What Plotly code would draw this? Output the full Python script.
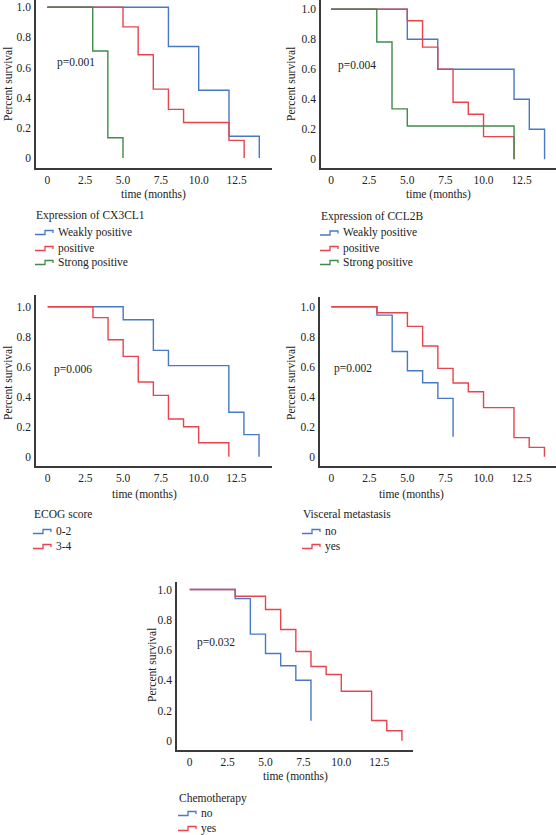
import plotly.graph_objects as go

# ---------------- data ----------------
x_ticks = [0, 2.5, 5, 7.5, 10, 12.5]
x_tick_labels = ["0", "2.5", "5.0", "7.5", "10.0", "12.5"]
y_ticks = [0, 0.2, 0.4, 0.6, 0.8, 1.0]
y_tick_labels = ["0", "0.2", "0.4", "0.6", "0.8", "1.0"]

# Panel 1: Expression of CX3CL1
cx3_weak_t = [0, 8, 10, 12, 14]
cx3_weak_s = [1.0, 0.74, 0.45, 0.145, 0]
cx3_pos_t = [0, 5, 6, 7, 8, 9, 12, 13]
cx3_pos_s = [1.0, 0.87, 0.685, 0.457, 0.323, 0.236, 0.117, 0]
cx3_strong_t = [0, 3, 4, 5]
cx3_strong_s = [1.0, 0.71, 0.135, 0]

# Panel 2: Expression of CCL2B
ccl_weak_t = [0, 5, 7, 12, 13, 14]
ccl_weak_s = [1.0, 0.8, 0.6, 0.4, 0.2, 0]
ccl_pos_t = [0, 5, 6, 7, 8, 9, 10, 12]
ccl_pos_s = [1.0, 0.924, 0.748, 0.6, 0.38, 0.3, 0.151, 0]
ccl_strong_t = [0, 3, 4, 5, 12]
ccl_strong_s = [1.0, 0.782, 0.336, 0.222, 0]

# Panel 3: ECOG score
ecog_02_t = [0, 5, 7, 8, 12, 13, 14]
ecog_02_s = [1.0, 0.913, 0.709, 0.607, 0.296, 0.147, 0]
ecog_34_t = [0, 3, 4, 5, 6, 7, 8, 9, 10, 12]
ecog_34_s = [1.0, 0.927, 0.78, 0.669, 0.498, 0.409, 0.251, 0.2, 0.093, 0]

# Panel 4: Visceral metastasis
visc_no_t = [0, 3, 4, 5, 6, 7, 8]
visc_no_s = [1.0, 0.944, 0.702, 0.573, 0.493, 0.389, 0.133]
visc_yes_t = [0, 3, 5, 6, 7, 8, 9, 10, 12, 13, 14]
visc_yes_s = [1.0, 0.96, 0.869, 0.738, 0.589, 0.491, 0.433, 0.327, 0.127, 0.062, 0]

# Panel 5: Chemotherapy
chemo_no_t = [0, 3, 4, 5, 6, 7, 8]
chemo_no_s = [1.0, 0.94, 0.705, 0.577, 0.496, 0.4, 0.132]
chemo_yes_t = [0, 3, 5, 6, 7, 8, 9, 10, 12, 13, 14]
chemo_yes_s = [1.0, 0.956, 0.868, 0.736, 0.59, 0.491, 0.438, 0.328, 0.134, 0.066, 0]

BLUE = "#4878c8"
RED = "#e8444d"
GREEN = "#3f8c4b"

panels = [
    dict(title="Expression of CX3CL1", p="p=0.001",
         series=[("Weakly positive", cx3_weak_t, cx3_weak_s, BLUE),
                 ("positive", cx3_pos_t, cx3_pos_s, RED),
                 ("Strong positive", cx3_strong_t, cx3_strong_s, GREEN)]),
    dict(title="Expression of CCL2B", p="p=0.004",
         series=[("Weakly positive", ccl_weak_t, ccl_weak_s, BLUE),
                 ("positive", ccl_pos_t, ccl_pos_s, RED),
                 ("Strong positive", ccl_strong_t, ccl_strong_s, GREEN)]),
    dict(title="ECOG score", p="p=0.006",
         series=[("0-2", ecog_02_t, ecog_02_s, BLUE),
                 ("3-4", ecog_34_t, ecog_34_s, RED)]),
    dict(title="Visceral metastasis", p="p=0.002",
         series=[("no", visc_no_t, visc_no_s, BLUE),
                 ("yes", visc_yes_t, visc_yes_s, RED)]),
    dict(title="Chemotherapy", p="p=0.032",
         series=[("no", chemo_no_t, chemo_no_s, BLUE),
                 ("yes", chemo_yes_t, chemo_yes_s, RED)]),
]

# ---------------- layout geometry (pixels) ----------------
W, H = 556, 835
geo = [
    dict(l=36, r=272, t=0, b=168, xr=[-0.746, 14.84], yr=[-0.066, 1.048],
         p=(55, 63), ylab=(8, 84), xlab=(153, 195),
         leg=(35, 216, [232, 248, 262])),
    dict(l=321, r=556, t=0, b=168, xr=[-0.656, 14.75], yr=[-0.058, 1.062],
         p=(336, 65), ylab=(291, 84), xlab=(438, 195),
         leg=(320, 216.5, [232.5, 248, 262])),
    dict(l=36, r=272, t=295, b=466, xr=[-0.775, 14.86], yr=[-0.062, 1.078],
         p=(52, 370), ylab=(8, 383), xlab=(144, 494),
         leg=(33, 514, [531, 546])),
    dict(l=320, r=556, t=297, b=466, xr=[-0.741, 14.76], yr=[-0.062, 1.065],
         p=(332, 368), ylab=(291, 383), xlab=(412, 494),
         leg=(302, 514, [531, 546])),
    dict(l=177, r=413, t=582, b=750, xr=[-0.839, 14.73], yr=[-0.061, 1.05],
         p=(195, 642), ylab=(152, 665), xlab=(295, 776),
         leg=(178, 798, [813, 828])),
]

FONT = "Liberation Serif"
AXC = "#3a3a3a"
TXT = "#222"


def fx(px):
    return px / W


def fy(py):
    return 1 - py / H


fig = go.Figure()
layout = dict(width=W, height=H, margin=dict(l=0, r=0, t=0, b=0),
              paper_bgcolor="white", plot_bgcolor="white", showlegend=False,
              font=dict(family=FONT, size=11, color=TXT))
annotations = []
shapes = []

for i, (pan, g) in enumerate(zip(panels, geo)):
    n = i + 1
    xa = "x" if n == 1 else f"x{n}"
    ya = "y" if n == 1 else f"y{n}"
    for name, t, s, col in pan["series"]:
        fig.add_trace(go.Scatter(x=t, y=s, mode="lines", name=name,
                                 line=dict(color=col, width=1.4, shape="hv"),
                                 xaxis=xa, yaxis=ya, hoverinfo="skip"))
    xkey = "xaxis" if n == 1 else f"xaxis{n}"
    ykey = "yaxis" if n == 1 else f"yaxis{n}"
    layout[xkey] = dict(domain=[fx(g["l"]), fx(g["r"])], range=g["xr"],
                        anchor=ya, showgrid=False, zeroline=False,
                        showline=True, linecolor=AXC, linewidth=1.5,
                        tickvals=x_ticks, ticktext=x_tick_labels, ticks="",
                        ticklabelstandoff=0,
                        tickfont=dict(family=FONT, size=11.5, color=TXT))
    layout[ykey] = dict(domain=[fy(g["b"]), fy(g["t"])], range=g["yr"],
                        anchor=xa, showgrid=False, zeroline=False,
                        showline=True, linecolor=AXC, linewidth=1.5,
                        tickvals=y_ticks, ticktext=y_tick_labels, ticks="",
                        ticklabelstandoff=1,
                        tickfont=dict(family=FONT, size=11.5, color=TXT))
    # p value
    annotations.append(dict(x=fx(g["p"][0]), y=fy(g["p"][1]), xref="paper",
                            yref="paper", text=pan["p"], showarrow=False,
                            xanchor="left", yanchor="middle",
                            font=dict(size=11.5)))
    # y title
    annotations.append(dict(x=fx(g["ylab"][0]), y=fy(g["ylab"][1]),
                            xref="paper", yref="paper", text="Percent survival",
                            textangle=-90, showarrow=False,
                            xanchor="center", yanchor="middle",
                            font=dict(size=11.5)))
    # x title
    annotations.append(dict(x=fx(g["xlab"][0]), y=fy(g["xlab"][1]),
                            xref="paper", yref="paper", text="time (months)",
                            showarrow=False, xanchor="center", yanchor="middle",
                            font=dict(size=11.5)))
    # legend
    lx, ly, items = g["leg"]
    annotations.append(dict(x=fx(lx - 1), y=fy(ly), xref="paper", yref="paper",
                            text=pan["title"], showarrow=False,
                            xanchor="left", yanchor="middle",
                            font=dict(size=11.5)))
    for (name, t, s, col), iy in zip(pan["series"], items):
        x0 = lx
        path = (f"M {fx(x0)},{fy(iy + 2.5)} L {fx(x0 + 10)},{fy(iy + 2.5)} "
                f"L {fx(x0 + 10)},{fy(iy - 1.5)} L {fx(x0 + 18)},{fy(iy - 1.5)} "
                f"L {fx(x0 + 18)},{fy(iy + 1)}")
        shapes.append(dict(type="path", path=path, xref="paper", yref="paper",
                           line=dict(color=col, width=1.3)))
        annotations.append(dict(x=fx(x0 + 21), y=fy(iy), xref="paper",
                                yref="paper", text=name, showarrow=False,
                                xanchor="left", yanchor="middle",
                                font=dict(size=11.5)))

layout["annotations"] = annotations
layout["shapes"] = shapes
fig.update_layout(**layout)
fig.write_html("out.html", config={"displayModeBar": False})

# remove default page margin so the figure sits at the window's top-left
with open("out.html", "r", encoding="utf-8") as f:
    html = f.read()
html = html.replace("<body>", "<body style=\"margin:0;padding:0;overflow:hidden\">", 1)
with open("out.html", "w", encoding="utf-8") as f:
    f.write(html)
